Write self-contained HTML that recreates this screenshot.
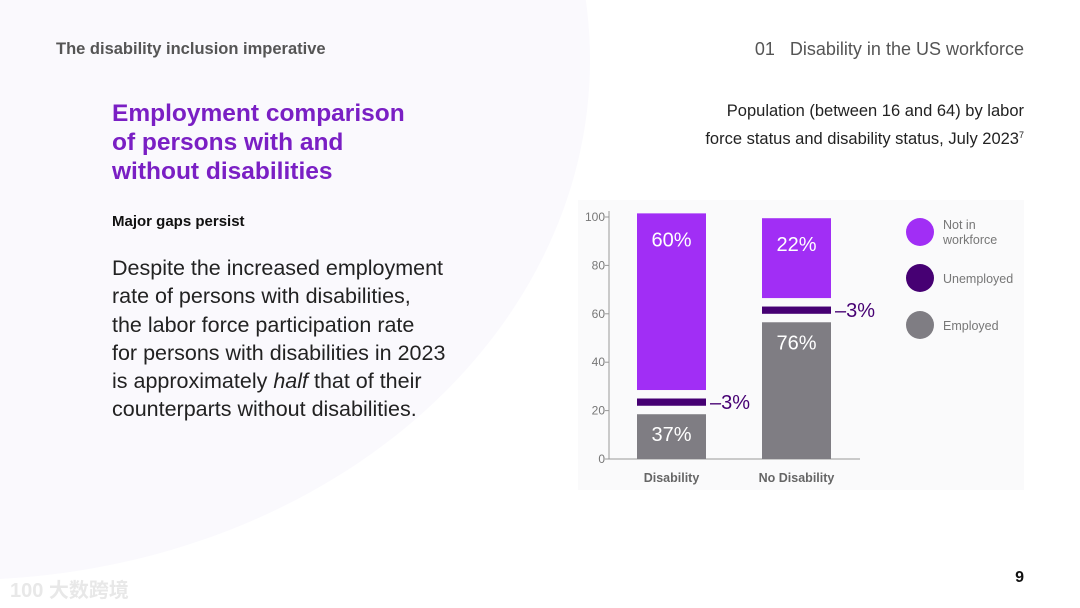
<!DOCTYPE html>
<html><head><meta charset="utf-8"><style>
html,body{margin:0;padding:0}
body{width:1080px;height:608px;position:relative;overflow:hidden;background:#fff;font-family:"Liberation Sans","Noto Sans CJK SC",sans-serif}
.t{position:absolute;white-space:nowrap}
</style></head><body>
<svg width="1080" height="608" style="position:absolute;left:0;top:0">
<ellipse cx="-40" cy="60" rx="630" ry="520" fill="#faf9fd"/>
<rect x="578" y="200" width="446" height="290" fill="#fafafb"/>
</svg>
<div class="t" style="left:56px;top:40px;font-size:16.5px;font-weight:bold;color:#555">The disability inclusion imperative</div>
<div class="t" style="right:56px;top:39px;font-size:18px;color:#555">01&nbsp;&nbsp; Disability in the US workforce</div>
<div class="t" style="left:112px;top:99px;font-size:24.5px;font-weight:bold;color:#7a1fc4;line-height:29px">Employment comparison<br>of persons with and<br>without disabilities</div>
<div class="t" style="left:112px;top:213px;font-size:15px;font-weight:bold;color:#111">Major gaps persist</div>
<div class="t" style="left:112px;top:254px;font-size:21.5px;color:#222;line-height:28.3px">Despite the increased employment<br>rate of persons with disabilities,<br>the labor force participation rate<br>for persons with disabilities in 2023<br>is approximately <i>half</i> that of their<br>counterparts without disabilities.</div>
<div class="t" style="right:56px;top:99px;font-size:16.5px;color:#222;line-height:24px;text-align:right">Population (between 16 and 64) by labor<br>force status and disability status, July 2023<span style="font-size:9px;vertical-align:6px">7</span></div>
<div class="t" style="right:56px;top:569px;font-size:16px;font-weight:bold;color:#111">9</div>
<div class="t" style="left:10px;top:574px;font-size:20px;color:#e8e8e8;font-weight:bold">100 大数跨境</div>
<svg id="chart" width="1080" height="608" style="position:absolute;left:0;top:0"></svg>
<script>
const categories=["Disability","No Disability"];
const employed=[18.5,56.5];
const unemployed=[3,3];
const notInWorkforce=[73,33];
const employedLabels=["37%","76%"];
const unemployedLabels=["3%","3%"];
const notInLabels=["60%","22%"];
const ticks=[0,20,40,60,80,100];
const NS="http://www.w3.org/2000/svg";
const svg=document.getElementById('chart');
const y0=459,pxPer=2.42,ax=609,gap=3.5;
const y=v=>y0-v*pxPer;
const bx=i=>637+i*125,bw=69;
function el(t,a,txt){const e=document.createElementNS(NS,t);for(const k in a)e.setAttribute(k,a[k]);if(txt!==undefined)e.textContent=txt;svg.appendChild(e);return e;}
let e=el('line',{x1:ax,y1:211,x2:ax,y2:y0,stroke:'#999','stroke-width':1});

e=el('line',{x1:ax,y1:y0,x2:860,y2:y0,stroke:'#999','stroke-width':1});

ticks.forEach(t=>{
 const l=el('line',{x1:ax-4,y1:y(t),x2:ax,y2:y(t),stroke:'#999'});
 
 const tx=el('text',{x:ax-4,y:y(t)+4,'text-anchor':'end','font-size':12,fill:'#777'},t);
 
});
categories.forEach((c,i)=>{
 const x=bx(i);
 const e1=employed[i],u1=e1+gap,u2=u1+unemployed[i],n1=u2+gap,n2=n1+notInWorkforce[i];
 let r=el('rect',{x:x,y:y(e1),width:bw,height:e1*pxPer,fill:'#7f7d83'});
 
 r=el('rect',{x:x,y:y(u2),width:bw,height:unemployed[i]*pxPer,fill:'#460073'});
 
 r=el('rect',{x:x,y:y(n2),width:bw,height:notInWorkforce[i]*pxPer,fill:'#a12ef5'});
 
 let t=el('text',{x:x+bw/2,y:y(n2)+33,'text-anchor':'middle','font-size':20,fill:'#fff'},notInLabels[i]);
 
 t=el('text',{x:x+bw/2,y:y(e1)+27,'text-anchor':'middle','font-size':20,fill:'#fff'},employedLabels[i]);
 
 t=el('text',{x:x+bw+4,y:y((u1+u2)/2)+7,'font-size':20,fill:'#460073'},'–'+unemployedLabels[i]);
 
 t=el('text',{x:x+bw/2,y:482,'text-anchor':'middle','font-size':12.5,'font-weight':'bold',fill:'#666'},c);
 
});
const legend=[["#a12ef5",["Not in","workforce"],232],["#460073",["Unemployed"],278],["#7f7d83",["Employed"],325]];
legend.forEach(([col,lines,cy])=>{
 const c=el('circle',{cx:920,cy:cy,r:14,fill:col});
 
 lines.forEach((ln,k)=>{
  const t=el('text',{x:943,y:cy+5+(lines.length>1?(k*15-8):0),'font-size':12.5,fill:'#777'},ln);
  
 });
});
</script>
</body></html>
